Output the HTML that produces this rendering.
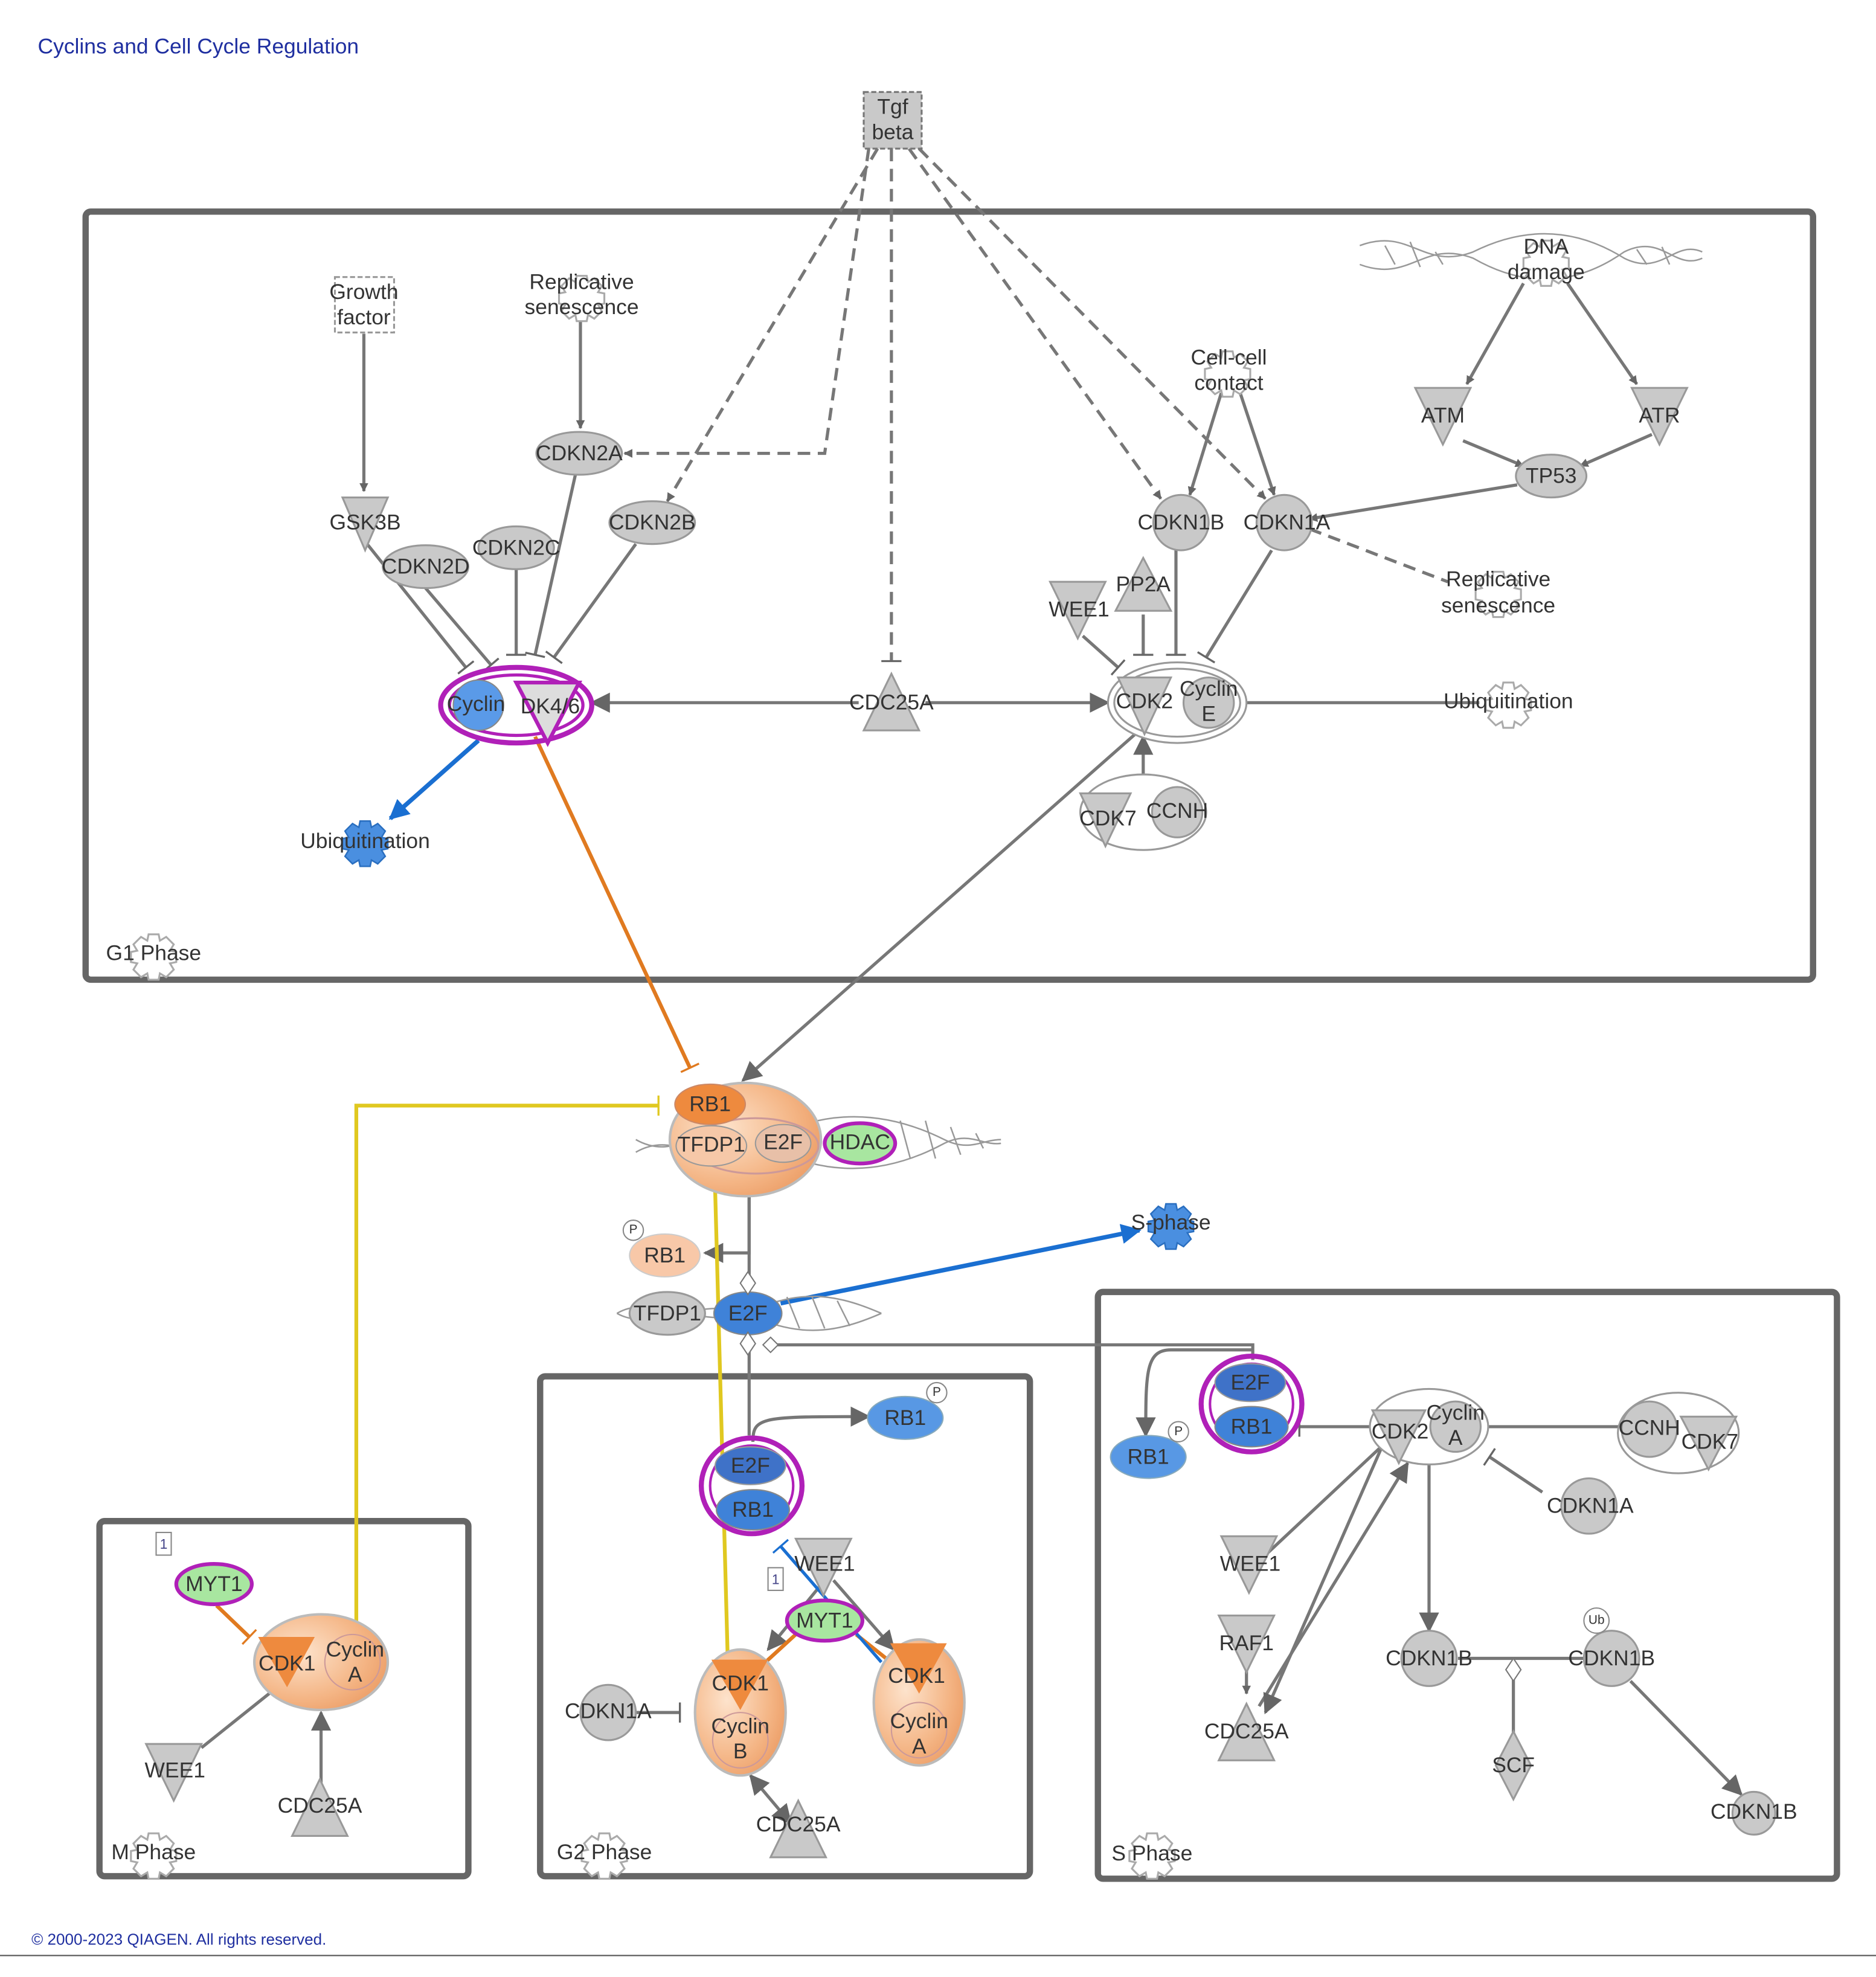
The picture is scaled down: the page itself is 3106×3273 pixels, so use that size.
<!DOCTYPE html>
<html><head><meta charset="utf-8"><style>
html,body{margin:0;padding:0;background:#fff}
svg{display:block}
text{font-family:"Liberation Sans",sans-serif;fill:#333;font-size:17px;text-anchor:middle;dominant-baseline:middle}
</style></head><body>
<svg width="3106" height="3273" viewBox="0 0 1490 1570" xmlns="http://www.w3.org/2000/svg">
<defs>
<marker id="ag" viewBox="0 0 10 10" refX="9" refY="5" markerWidth="7" markerHeight="7" orient="auto-start-reverse" markerUnits="userSpaceOnUse"><path d="M0,0L10,5L0,10z" fill="#666"/></marker>
<marker id="agl" viewBox="0 0 10 10" refX="9" refY="5" markerWidth="16" markerHeight="16" orient="auto-start-reverse" markerUnits="userSpaceOnUse"><path d="M0,0L10,5L0,10z" fill="#666"/></marker>
<marker id="ab" viewBox="0 0 10 10" refX="9" refY="5" markerWidth="16" markerHeight="16" orient="auto" markerUnits="userSpaceOnUse"><path d="M0,0L10,5L0,10z" fill="#1a6fd1"/></marker>
<marker id="tg" viewBox="0 0 4 20" refX="2" refY="10" markerWidth="4" markerHeight="16" orient="auto" markerUnits="userSpaceOnUse"><path d="M2,0V20" stroke="#666" stroke-width="2"/></marker>
<marker id="to" viewBox="0 0 4 20" refX="2" refY="10" markerWidth="4" markerHeight="16" orient="auto" markerUnits="userSpaceOnUse"><path d="M2,0V20" stroke="#e07a20" stroke-width="2"/></marker>
<marker id="ty" viewBox="0 0 4 20" refX="2" refY="10" markerWidth="4" markerHeight="16" orient="auto" markerUnits="userSpaceOnUse"><path d="M2,0V20" stroke="#e0c820" stroke-width="2"/></marker>
<marker id="tb" viewBox="0 0 4 20" refX="2" refY="10" markerWidth="4" markerHeight="16" orient="auto" markerUnits="userSpaceOnUse"><path d="M2,0V20" stroke="#1a6fd1" stroke-width="2"/></marker>
<radialGradient id="og" cx="0.35" cy="0.4" r="0.8"><stop offset="0" stop-color="#fde3cc"/><stop offset="0.6" stop-color="#f4b585"/><stop offset="1" stop-color="#e9945a"/></radialGradient>
<g id="gear"><path d="M-4,-16h8l1,5 5,-3 6,6-3,5 5,1v8l-5,1 3,5-6,6-5,-3-1,5h-8l-1,-5-5,3-6,-6 3,-5-5,-1v-8l5,-1-3,-5 6,-6 5,3z"/></g>
</defs>
<text x="30" y="38" style="fill:#1f2fa0;font-size:17px;text-anchor:start">Cyclins and Cell Cycle Regulation</text>
<text x="25" y="1541" style="fill:#1f2fa0;font-size:12.5px;text-anchor:start">© 2000-2023 QIAGEN. All rights reserved.</text>
<line x1="0" y1="1553" x2="1490" y2="1553" stroke="#555" stroke-width="1"/>

<g fill="none" stroke="#666" stroke-width="5">
<rect x="68" y="168" width="1372" height="610" rx="4"/>
<rect x="872" y="1026" width="587" height="466" rx="4"/>
<rect x="429" y="1093" width="389" height="397" rx="4"/>
<rect x="79" y="1208" width="293" height="282" rx="4"/>
</g>

<g stroke="#777" stroke-width="2.5" fill="none" stroke-dasharray="10,6">
<path d="M690,118L655,360H496" marker-end="url(#ag)"/>
<path d="M697,118L530,398" marker-end="url(#ag)"/>
<path d="M708,118V525" marker-end="url(#tg)"/>
<path d="M722,118L922,396" marker-end="url(#ag)"/>
<path d="M730,118L1005,396" marker-end="url(#ag)"/>
<path d="M1040,420L1150,462"/>
</g>

<g stroke="#777" stroke-width="2.5" fill="none">
<path d="M289,265V390" marker-end="url(#ag)"/>
<path d="M461,255V340" marker-end="url(#ag)"/>
<path d="M1210,225L1165,305" marker-end="url(#ag)"/>
<path d="M1245,225L1300,305" marker-end="url(#ag)"/>
<path d="M1162,350L1210,370" marker-end="url(#ag)"/>
<path d="M1312,345L1255,370" marker-end="url(#ag)"/>
<path d="M1205,385L1040,412" marker-end="url(#ag)"/>
<path d="M970,312L945,393" marker-end="url(#ag)"/>
<path d="M985,312L1012,393" marker-end="url(#ag)"/>
<path d="M290,430L370,530" marker-end="url(#tg)"/>
<path d="M338,467L390,528" marker-end="url(#tg)"/>
<path d="M410,452V520" marker-end="url(#tg)"/>
<path d="M457,377L425,520" marker-end="url(#tg)"/>
<path d="M505,432L440,522" marker-end="url(#tg)"/>
<path d="M934,437V520" marker-end="url(#tg)"/>
<path d="M1010,437L958,522" marker-end="url(#tg)"/>
<path d="M860,505L888,530" marker-end="url(#tg)"/>
<path d="M908,488V520" marker-end="url(#tg)"/>
<path d="M682,558H470" marker-end="url(#agl)"/>
<path d="M735,558H880" marker-end="url(#agl)"/>
<path d="M990,558H1175"/>
<path d="M908,615V585" marker-end="url(#agl)"/>
<path d="M905,580L590,858" marker-end="url(#agl)"/>
<path d="M595,948V995H560" marker-end="url(#agl)"/>
<path d="M595,948V1030"/>
<path d="M595,1058V1140"/>
<path d="M598,1145C598,1125 605,1125 690,1125" marker-end="url(#agl)"/>
<path d="M612,1068H995V1080"/>
<path d="M995,1072H930C910,1072 910,1090 910,1140" marker-end="url(#agl)"/>
<path d="M1090,1133H1032" marker-end="url(#tg)"/>
<path d="M1180,1133H1290"/>
<path d="M1135,1160V1295" marker-end="url(#agl)"/>
<path d="M1225,1185L1183,1157" marker-end="url(#tg)"/>
<path d="M1005,1235L1098,1148"/>
<path d="M1000,1355L1118,1162" marker-end="url(#agl)"/>
<path d="M1098,1148L1005,1360" marker-end="url(#agl)"/>
<path d="M990,1325V1345" marker-end="url(#ag)"/>
<path d="M1158,1317H1258"/>
<path d="M1202,1327V1385"/>
<path d="M1295,1335L1383,1425" marker-end="url(#agl)"/>
<path d="M160,1388L220,1340"/>
<path d="M255,1418V1360" marker-end="url(#agl)"/>
<path d="M502,1360H540" marker-end="url(#tg)"/>
<path d="M596,1410L628,1448" marker-start="url(#agl)" marker-end="url(#agl)"/>
<path d="M655,1255L610,1310" marker-end="url(#agl)"/>
<path d="M662,1255L710,1310" marker-end="url(#agl)"/>
</g>
<path d="M425,585L548,848" stroke="#e07a20" stroke-width="3" fill="none" marker-end="url(#to)"/>
<path d="M380,588L310,650" stroke="#1a6fd1" stroke-width="3.5" fill="none" marker-end="url(#ab)"/>
<path d="M620,1035L905,977" stroke="#1a6fd1" stroke-width="3.5" fill="none" marker-end="url(#ab)"/>
<path d="M283,1292V878H523" stroke="#e0c820" stroke-width="3" fill="none" marker-end="url(#ty)"/>
<path d="M568,945L578,1318" stroke="#e0c820" stroke-width="3" fill="none"/>
<path d="M172,1275L198,1300" stroke="#e07a20" stroke-width="3" fill="none" marker-end="url(#to)"/>
<path d="M632,1298L608,1320" stroke="#e07a20" stroke-width="3" fill="none" marker-end="url(#to)"/>
<path d="M680,1298L705,1318" stroke="#e07a20" stroke-width="3" fill="none" marker-end="url(#to)"/>
<path d="M700,1320L620,1228" stroke="#1a6fd1" stroke-width="2.5" fill="none" marker-end="url(#tb)"/>

<!-- DNA helices (crossing waves) -->
<g stroke="#999" stroke-width="1.2" fill="none">
<path d="M1080,195C1120,180 1130,215 1170,200C1210,180 1250,180 1290,205C1320,220 1330,190 1352,200"/>
<path d="M1080,210C1120,225 1130,190 1170,205C1210,228 1250,228 1290,200C1320,185 1330,215 1352,205"/>
<path d="M1100,195l8,15M1120,192l8,20M1140,200l6,10M1300,198l8,12M1320,196l6,14"/>
<path d="M505,915C540,895 560,935 600,910C650,880 700,880 750,905C770,915 780,905 795,905"/>
<path d="M505,905C540,925 560,885 600,905C650,935 700,935 750,908C770,898 780,910 795,908"/>
<path d="M715,890l8,30M735,890l8,30M755,895l8,22M775,900l6,12"/>
<path d="M490,1043C520,1025 560,1060 600,1040C640,1022 670,1030 700,1043"/>
<path d="M490,1043C520,1060 560,1025 600,1046C640,1064 670,1056 700,1043"/>
<path d="M625,1030l10,25M645,1030l10,25M665,1033l10,20"/>
</g>

<g fill="#c9c9c9" stroke="#999" stroke-width="1.5">
<rect x="686" y="73" width="46" height="45" stroke-dasharray="4,2" stroke="#777"/>
<rect x="266" y="220" width="47" height="44" fill="#fff" stroke-dasharray="4,2"/>
<ellipse cx="460" cy="360" rx="34" ry="17"/>
<ellipse cx="518" cy="415" rx="34" ry="17"/>
<ellipse cx="410" cy="435" rx="30" ry="17"/>
<ellipse cx="338" cy="450" rx="34" ry="17"/>
<circle cx="938" cy="415" r="22"/>
<circle cx="1020" cy="415" r="22"/>
<ellipse cx="1232" cy="378" rx="28" ry="17"/>
<path d="M272,395h36l-18,42z"/>
<path d="M1124,308h44l-22,45z"/>
<path d="M1296,308h44l-22,45z"/>
<path d="M834,462h44l-22,45z"/>
<path d="M886,485h44l-22,-42z"/>
<path d="M686,580h44l-22,-45z"/>
<ellipse cx="935" cy="558" rx="55" ry="32" fill="#fff"/>
<ellipse cx="935" cy="558" rx="50" ry="27" fill="#fff"/>
<path d="M888,538h42l-21,45z"/>
<circle cx="960" cy="558" r="20"/>
<ellipse cx="908" cy="645" rx="50" ry="30" fill="#fff"/>
<path d="M858,630h40l-20,42z"/>
<circle cx="935" cy="645" r="20"/>
<ellipse cx="530" cy="1043" rx="30" ry="17"/>
<circle cx="483" cy="1360" r="22"/>
<path d="M612,1475h44l-22,-45z"/>
<path d="M632,1222h44l-22,45z"/>
<path d="M116,1385h44l-22,45z"/>
<path d="M232,1458h44l-22,-45z"/>
<ellipse cx="1135" cy="1133" rx="47" ry="30" fill="#fff"/>
<path d="M1090,1120h42l-21,42z"/>
<circle cx="1156" cy="1133" r="20"/>
<ellipse cx="1333" cy="1138" rx="48" ry="32" fill="#fff"/>
<circle cx="1310" cy="1135" r="22"/>
<path d="M1335,1125h44l-22,42z"/>
<circle cx="1262" cy="1196" r="22"/>
<path d="M970,1220h44l-22,45z"/>
<path d="M968,1283h44l-22,45z"/>
<path d="M968,1398h44l-22,-45z"/>
<circle cx="1135" cy="1317" r="22"/>
<circle cx="1280" cy="1317" r="22"/>
<path d="M1202,1375l14,27-14,27-14,-27z"/>
<circle cx="1393" cy="1440" r="17"/>
</g>
<g fill="#fff" stroke="#aaa" stroke-width="1.5">
<use href="#gear" x="122" y="758"/><use href="#gear" x="480" y="1472"/><use href="#gear" x="122" y="1472"/><use href="#gear" x="915" y="1472"/>
<use href="#gear" x="1198" y="558"/><use href="#gear" x="975" y="295"/><use href="#gear" x="462" y="235"/><use href="#gear" x="1190" y="470"/><use href="#gear" x="1228" y="207"/>
</g>
<g fill="#4a8fe0" stroke="#2a6fc0" stroke-width="1.2"><use href="#gear" x="290" y="668"/><use href="#gear" x="930" y="972"/></g>

<ellipse cx="410" cy="560" rx="60" ry="30" fill="none" stroke="#b020b8" stroke-width="4"/>
<ellipse cx="410" cy="560" rx="53" ry="24" fill="#fff" stroke="#b020b8" stroke-width="2.5"/>
<circle cx="380" cy="560" r="20" fill="#5a9ae8" stroke="#888"/>
<path d="M410,542h50l-25,48z" fill="#ddd" stroke="#b020b8" stroke-width="3"/>

<ellipse cx="592" cy="905" rx="60" ry="45" fill="url(#og)" stroke="#bbb" stroke-width="2"/>
<ellipse cx="600" cy="910" rx="50" ry="22" fill="none" stroke="#c99" stroke-width="1.5"/>
<ellipse cx="564" cy="877" rx="28" ry="16" fill="#ee8a3e" stroke="#c86"/>
<ellipse cx="565" cy="910" rx="28" ry="16" fill="#f6c8a8" stroke="#999"/>
<ellipse cx="622" cy="908" rx="22" ry="15" fill="#e8c0a8" stroke="#999"/>
<ellipse cx="683" cy="908" rx="28" ry="16" fill="#a8e6a0" stroke="#b020b8" stroke-width="3"/>
<ellipse cx="528" cy="997" rx="28" ry="17" fill="#f8c8a8" stroke="#ccc"/>
<ellipse cx="594" cy="1043" rx="27" ry="17" fill="#3f82d8" stroke="#888"/>
<path d="M594,1010l6,9-6,9-6,-9zM594,1058l6,9-6,9-6,-9zM612,1062l6,6-6,6-6,-6z" fill="#fff" stroke="#777"/>
<path d="M1202,1317l6,9-6,9-6,-9z" fill="#fff" stroke="#777"/>

<g fill="#5898e4" stroke="#8ab">
<ellipse cx="719" cy="1126" rx="30" ry="17"/>
<ellipse cx="912" cy="1157" rx="30" ry="17"/>
</g>
<circle cx="744" cy="1106" r="8" fill="#fff" stroke="#888"/>
<circle cx="936" cy="1137" r="8" fill="#fff" stroke="#888"/>
<circle cx="503" cy="977" r="8" fill="#fff" stroke="#888"/>
<circle cx="1268" cy="1287" r="10" fill="#fff" stroke="#888"/>
<g>
<ellipse cx="597" cy="1180" rx="40" ry="38" fill="none" stroke="#b020b8" stroke-width="4"/>
<ellipse cx="597" cy="1180" rx="33" ry="32" fill="#fff" stroke="#b020b8" stroke-width="2"/>
<ellipse cx="596" cy="1164" rx="28" ry="15" fill="#3f72c8" stroke="#999"/>
<ellipse cx="598" cy="1199" rx="29" ry="16" fill="#3f82d8" stroke="#888"/>
<ellipse cx="994" cy="1115" rx="40" ry="38" fill="none" stroke="#b020b8" stroke-width="4"/>
<ellipse cx="994" cy="1115" rx="33" ry="32" fill="#fff" stroke="#b020b8" stroke-width="2"/>
<ellipse cx="993" cy="1098" rx="28" ry="15" fill="#3f72c8" stroke="#999"/>
<ellipse cx="994" cy="1133" rx="29" ry="16" fill="#3f82d8" stroke="#888"/>
</g>
<ellipse cx="170" cy="1258" rx="30" ry="16" fill="#a8e6a0" stroke="#b020b8" stroke-width="3"/>
<ellipse cx="655" cy="1287" rx="30" ry="16" fill="#a8e6a0" stroke="#b020b8" stroke-width="3"/>
<rect x="124" y="1217" width="12" height="18" fill="#fff" stroke="#888"/>
<rect x="610" y="1245" width="12" height="18" fill="#fff" stroke="#888"/>

<ellipse cx="255" cy="1320" rx="53" ry="38" fill="url(#og)" stroke="#bbb" stroke-width="2"/>
<path d="M205,1300h45l-22,40z" fill="#ee8a3e"/>
<circle cx="280" cy="1320" r="22" fill="none" stroke="#c99"/>
<ellipse cx="588" cy="1360" rx="36" ry="50" fill="url(#og)" stroke="#bbb" stroke-width="2"/>
<path d="M565,1318h45l-22,40z" fill="#ee8a3e"/>
<circle cx="588" cy="1382" r="22" fill="none" stroke="#c99"/>
<ellipse cx="730" cy="1352" rx="36" ry="50" fill="url(#og)" stroke="#bbb" stroke-width="2"/>
<path d="M707,1305h45l-22,40z" fill="#ee8a3e"/>
<circle cx="730" cy="1374" r="22" fill="none" stroke="#c99"/>

<text x="709" y="86">Tgf</text><text x="709" y="106">beta</text>
<text x="289" y="233">Growth</text><text x="289" y="253">factor</text>
<text x="462" y="225">Replicative</text><text x="462" y="245">senescence</text>
<text x="460" y="361">CDKN2A</text><text x="518" y="416">CDKN2B</text><text x="410" y="436">CDKN2C</text><text x="338" y="451">CDKN2D</text>
<text x="290" y="416">GSK3B</text>
<text x="976" y="285">Cell-cell</text><text x="976" y="305">contact</text>
<text x="1228" y="197">DNA</text><text x="1228" y="217">damage</text>
<text x="1146" y="331">ATM</text><text x="1318" y="331">ATR</text><text x="1232" y="379">TP53</text>
<text x="938" y="416">CDKN1B</text><text x="1022" y="416">CDKN1A</text>
<text x="1190" y="461">Replicative</text><text x="1190" y="482">senescence</text>
<text x="857" y="485">WEE1</text><text x="908" y="465">PP2A</text>
<text x="708" y="559">CDC25A</text><text x="909" y="558">CDK2</text><text x="960" y="548">Cyclin</text><text x="960" y="568">E</text>
<text x="1198" y="558">Ubiquitination</text>
<text x="880" y="651">CDK7</text><text x="935" y="645">CCNH</text>
<text x="378" y="560">Cyclin</text><text x="437" y="562">DK4/6</text>
<text x="290" y="669">Ubiquitination</text>
<text x="122" y="758">G1 Phase</text>
<text x="564" y="878">RB1</text><text x="565" y="910">TFDP1</text><text x="622" y="908">E2F</text><text x="683" y="908">HDAC</text>
<text x="528" y="998">RB1</text><text x="930" y="972">S-phase</text>
<text x="530" y="1044">TFDP1</text><text x="594" y="1044">E2F</text>
<text x="719" y="1127">RB1</text><text x="744" y="1106" style="font-size:10px">P</text>
<text x="912" y="1158">RB1</text><text x="936" y="1137" style="font-size:10px">P</text>
<text x="503" y="977" style="font-size:10px">P</text><text x="1268" y="1287" style="font-size:10px">Ub</text>
<text x="596" y="1165">E2F</text><text x="598" y="1200">RB1</text>
<text x="993" y="1099">E2F</text><text x="994" y="1134">RB1</text>
<text x="1112" y="1138">CDK2</text><text x="1156" y="1123">Cyclin</text><text x="1156" y="1143">A</text>
<text x="1310" y="1135">CCNH</text><text x="1358" y="1146">CDK7</text>
<text x="1263" y="1197">CDKN1A</text><text x="993" y="1243">WEE1</text><text x="990" y="1306">RAF1</text><text x="990" y="1376">CDC25A</text>
<text x="1135" y="1318">CDKN1B</text><text x="1280" y="1318">CDKN1B</text><text x="1202" y="1403">SCF</text><text x="1393" y="1440">CDKN1B</text>
<text x="915" y="1473">S Phase</text><text x="480" y="1472">G2 Phase</text><text x="122" y="1472">M Phase</text>
<text x="130" y="1227" style="font-size:11px;fill:#448">1</text><text x="616" y="1255" style="font-size:11px;fill:#448">1</text>
<text x="170" y="1259">MYT1</text><text x="655" y="1288">MYT1</text><text x="655" y="1243">WEE1</text>
<text x="228" y="1322">CDK1</text><text x="282" y="1311">Cyclin</text><text x="282" y="1331">A</text>
<text x="139" y="1407">WEE1</text><text x="254" y="1435">CDC25A</text>
<text x="483" y="1360">CDKN1A</text>
<text x="588" y="1338">CDK1</text><text x="588" y="1372">Cyclin</text><text x="588" y="1392">B</text>
<text x="728" y="1332">CDK1</text><text x="730" y="1368">Cyclin</text><text x="730" y="1388">A</text>
<text x="634" y="1450">CDC25A</text>
</svg>
</body></html>
